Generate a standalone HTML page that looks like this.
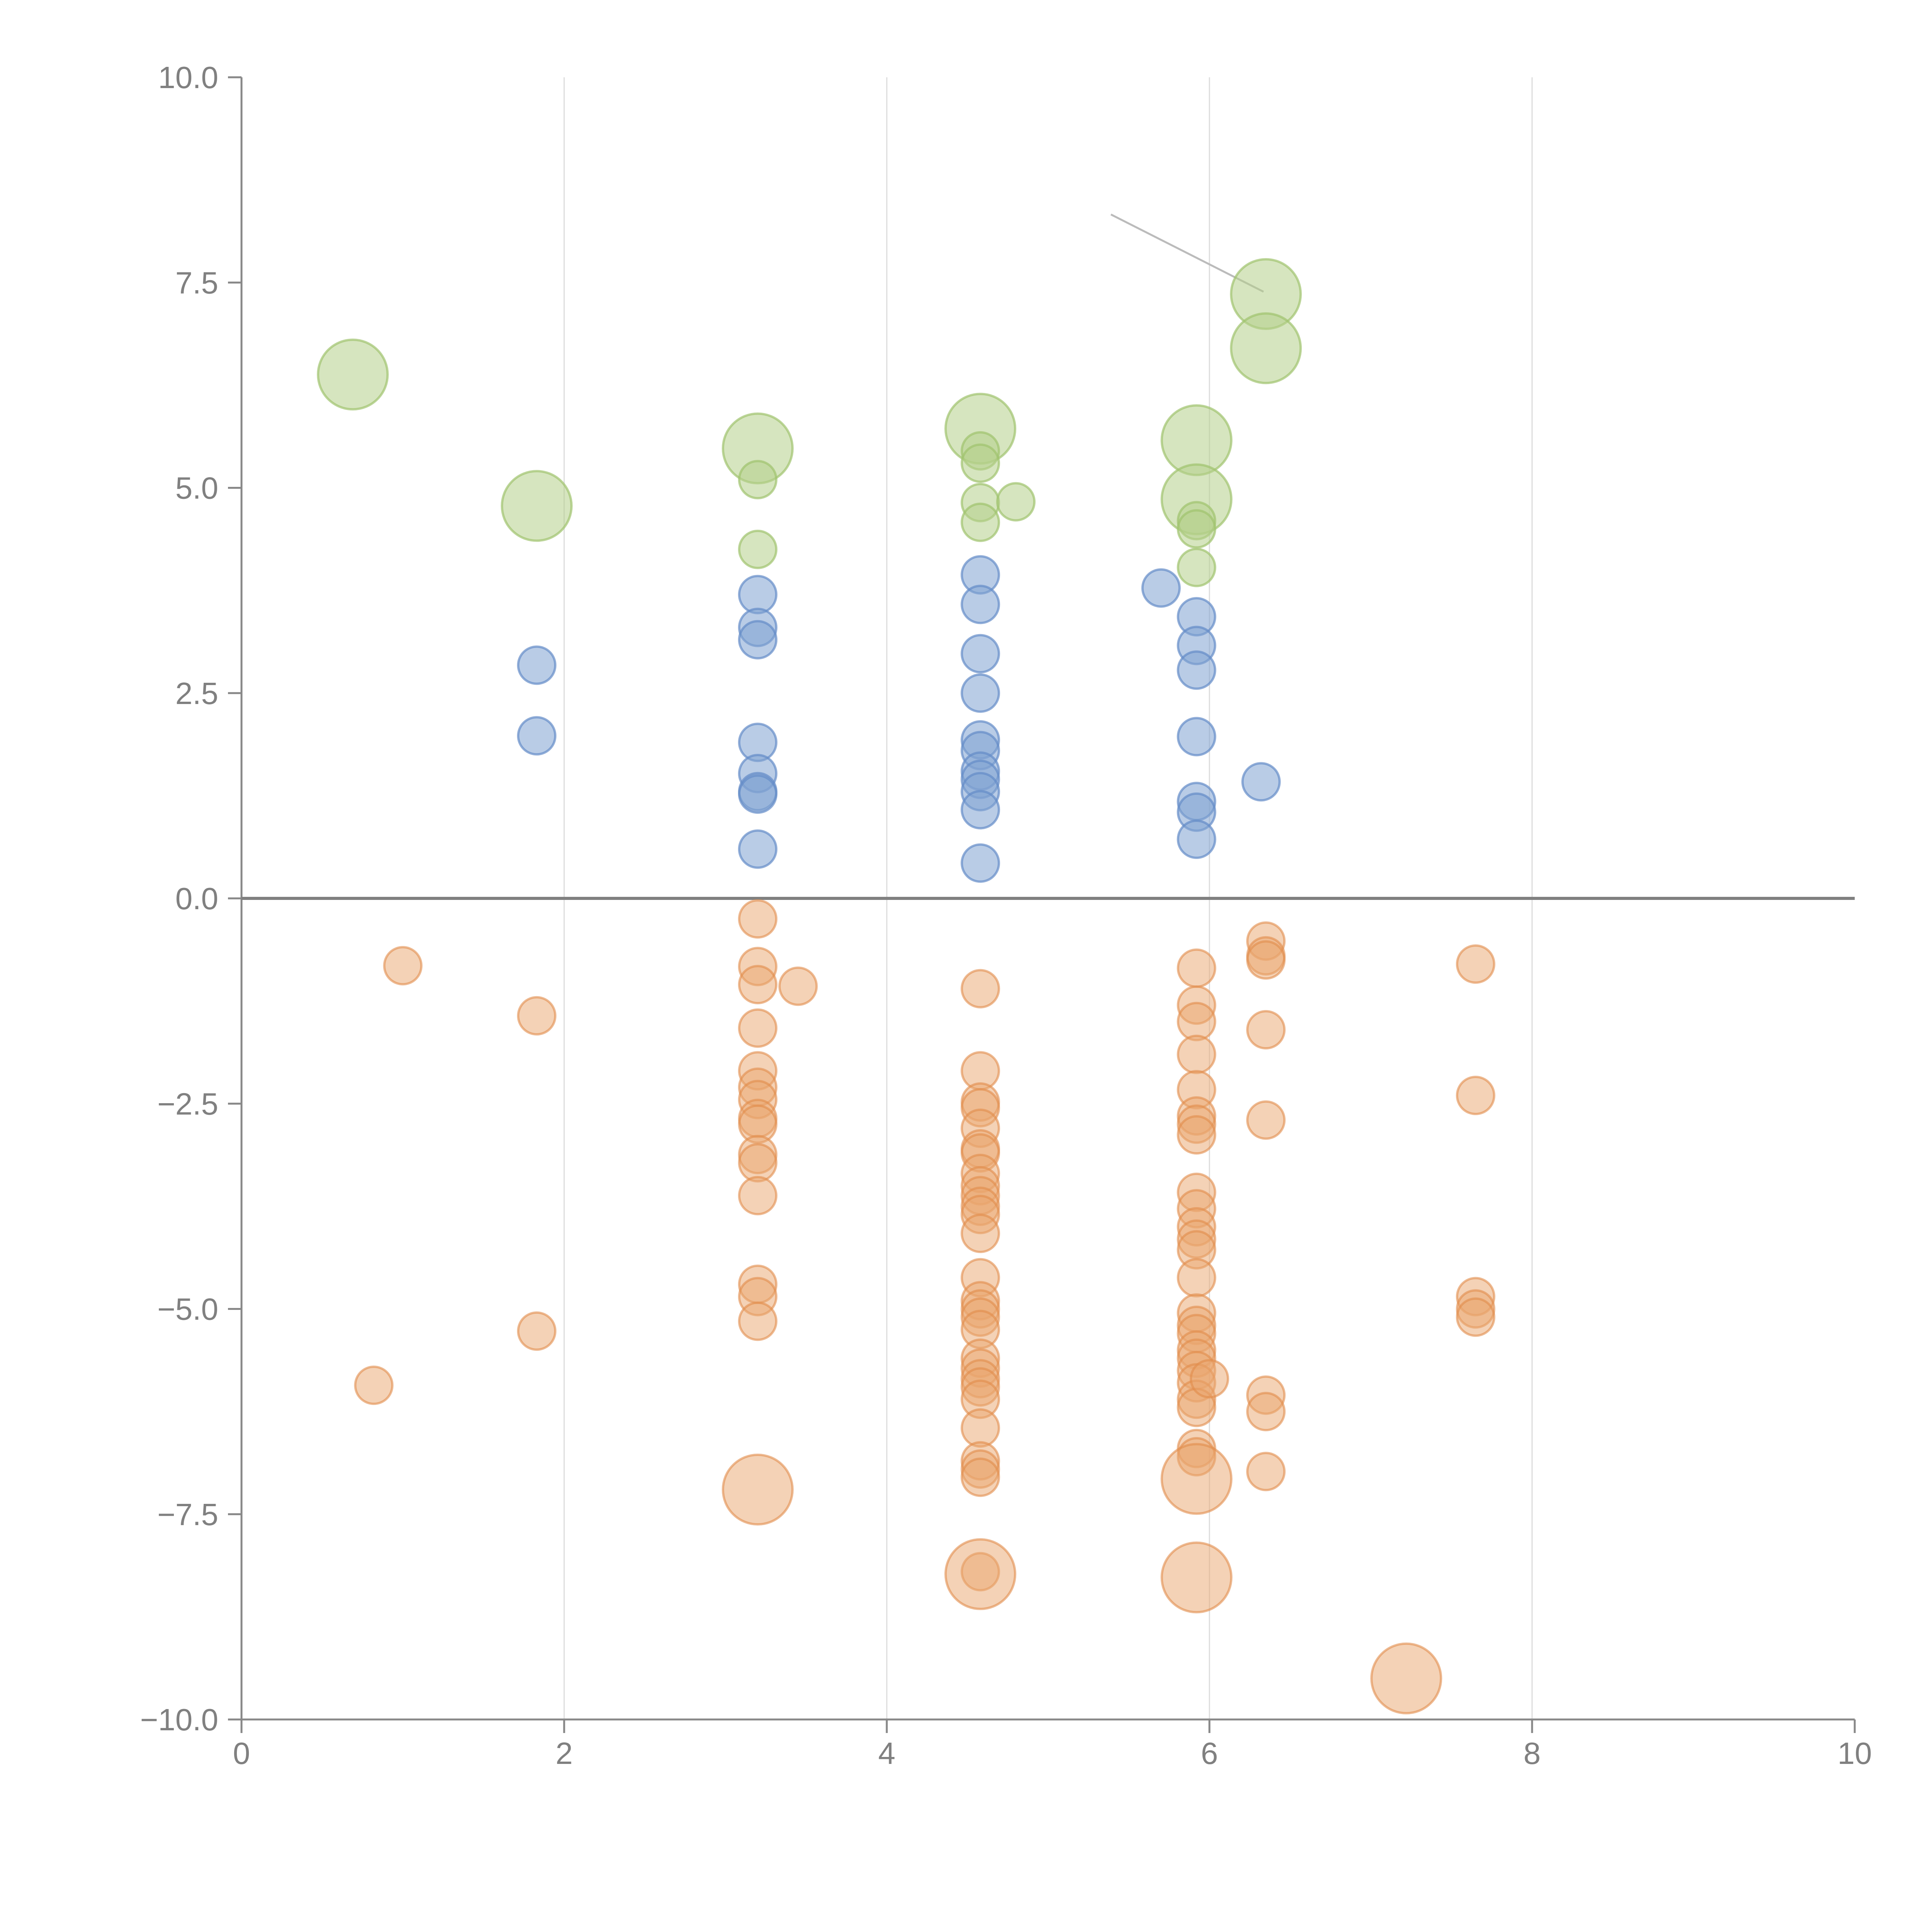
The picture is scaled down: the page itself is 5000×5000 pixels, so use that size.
<!DOCTYPE html>
<html><head><meta charset="utf-8"><style>
html,body{margin:0;padding:0;background:#fff;}
svg{display:block;font-family:"Liberation Sans",Arial,sans-serif;}
</style></head><body>
<svg id="chart" width="5000" height="5000" viewBox="0 0 5000 5000" xmlns="http://www.w3.org/2000/svg">
<g id="grid"></g>
<g id="axes"></g>
<g id="marks"></g>
</svg>
<script>
const xTicks=[0,2,4,6,8,10];
const yTicks=[10,7.5,5,2.5,0,-2.5,-5,-7.5,-10];
const yTickLabels=["10.0","7.5","5.0","2.5","0.0","\u22122.5","\u22125.0","\u22127.5","\u221210.0"];
const greenBigX=[0.69,1.83,3.2,4.58,5.92,5.92,6.35,6.35];
const greenBigY=[6.38,4.78,5.48,5.72,5.58,4.86,7.36,6.7];
const greenX=[3.2,3.2,4.58,4.58,4.58,4.58,4.8,5.92,5.92,5.92];
const greenY=[5.1,4.25,5.45,5.3,4.82,4.58,4.83,4.6,4.5,4.03];
const blueX=[1.83,1.83,3.2,3.2,3.2,3.2,3.2,3.2,3.2,3.2,4.58,4.58,4.58,4.58,4.58,4.58,4.58,4.58,4.58,4.58,4.58,5.7,5.92,5.92,5.92,5.92,5.92,5.92,5.92,6.32];
const blueY=[2.84,1.98,3.7,3.3,3.15,1.9,1.52,1.3,1.27,0.6,3.94,3.58,2.98,2.5,1.93,1.8,1.55,1.45,1.3,1.08,0.43,3.78,3.43,3.08,2.78,1.97,1.18,1.05,0.72,1.42];
const orangeX=[1.0,0.82,1.83,1.83,3.2,3.2,3.2,3.45,3.2,3.2,3.2,3.2,3.2,3.2,3.2,3.2,3.2,3.2,3.2,3.2,
4.58,4.58,4.58,4.58,4.58,4.58,4.58,4.58,4.58,4.58,4.58,4.58,4.58,4.58,4.58,4.58,4.58,4.58,4.58,4.58,4.58,4.58,4.58,4.58,4.58,4.58,4.58,4.58,
5.92,5.92,5.92,5.92,5.92,5.92,5.92,5.92,5.92,5.92,5.92,5.92,5.92,5.92,5.92,5.92,5.92,5.92,5.92,5.92,5.92,5.92,5.92,5.92,5.92,6.0,
6.35,6.35,6.35,6.35,6.35,6.35,6.35,6.35,7.65,7.65,7.65,7.65,7.65];
const orangeY=[-0.82,-5.93,-1.43,-5.27,-0.25,-0.83,-1.05,-1.07,-1.58,-2.1,-2.3,-2.45,-2.68,-2.75,-3.12,-3.22,-3.62,-4.7,-4.85,-5.15,
-1.1,-2.1,-2.48,-2.55,-2.8,-3.05,-3.1,-3.35,-3.5,-3.62,-3.75,-3.85,-4.08,-4.62,-4.9,-5.0,-5.1,-5.25,-5.6,-5.72,-5.85,-5.95,-6.1,-6.45,-6.85,-6.95,-7.05,-8.2,
-0.85,-1.3,-1.5,-1.9,-2.33,-2.65,-2.75,-2.88,-3.58,-3.78,-4.0,-4.15,-4.28,-4.62,-5.05,-5.2,-5.3,-5.5,-5.6,-5.75,-5.9,-6.1,-6.2,-6.7,-6.8,-5.85,
-0.52,-0.7,-0.75,-1.6,-2.7,-6.05,-6.25,-6.98,-0.8,-2.4,-4.85,-5.0,-5.1];
const orangeBigX=[3.2,4.58,5.92,5.92,7.22];
const orangeBigY=[-7.2,-8.23,-7.07,-8.27,-9.5];

const NS="http://www.w3.org/2000/svg";
const X0=625,X1=4800,Y0=4450,Y1=200;
function sx(v){return X0+(v-0)/(10-0)*(X1-X0);}
function sy(v){return Y0-(v+10)/20*(Y0-Y1);}
function mk(tag,attrs,parent){const e=document.createElementNS(NS,tag);for(const k in attrs)e.setAttribute(k,attrs[k]);parent.appendChild(e);return e;}
const grid=document.getElementById('grid'),axes=document.getElementById('axes'),marks=document.getElementById('marks');
xTicks.forEach(t=>{
  if(t>0&&t<10){const l=mk('line',{x1:sx(t),x2:sx(t),y1:Y1,y2:Y0,stroke:'#dcdcdc','stroke-width':3},grid);
  
  }
  const tk=mk('line',{x1:sx(t),x2:sx(t),y1:Y0,y2:Y0+35,stroke:'#888','stroke-width':5},axes);
  
  
  const tx=mk('text',{x:sx(t),y:Y0+115,'text-anchor':'middle','font-size':80,fill:'#808080'},axes);
  tx.textContent=String(t);
  
  
});
yTicks.forEach((t,i)=>{
  const tk=mk('line',{x1:X0-35,x2:X0,y1:sy(t),y2:sy(t),stroke:'#888','stroke-width':5},axes);
  
  
  const tx=mk('text',{x:X0-60,y:sy(t)+28,'text-anchor':'end','font-size':80,fill:'#808080'},axes);
  tx.textContent=yTickLabels[i];
  
  
});
let a=mk('line',{x1:X0,x2:X0,y1:Y1,y2:Y0,stroke:'#888','stroke-width':5},axes);


a=mk('line',{x1:X0,x2:X1,y1:Y0,y2:Y0,stroke:'#888','stroke-width':5},axes);


a=mk('line',{x1:X0,x2:X1,y1:sy(0),y2:sy(0),stroke:'#808080','stroke-width':8},axes);


a=mk('line',{x1:2875,y1:555,x2:3270,y2:755,stroke:'#bbb','stroke-width':5},axes);


function draw(xs,ys,r,fill,stroke,name){
  xs.forEach((x,i)=>{
    const c=mk('circle',{cx:sx(x),cy:sy(ys[i]),r:r,fill:fill,stroke:stroke,'stroke-width':6},marks);
    
    
  });
}
draw(greenBigX,greenBigY,90,'rgba(181,207,138,0.55)','rgba(160,195,110,0.7)','green-bubble-large');
draw(greenX,greenY,48,'rgba(181,207,138,0.55)','rgba(160,195,110,0.7)','green-bubble');
draw(blueX,blueY,48,'rgba(128,162,210,0.55)','rgba(100,140,200,0.7)','blue-bubble');
draw(orangeX,orangeY,48,'rgba(234,166,110,0.5)','rgba(225,140,75,0.6)','orange-bubble');
draw(orangeBigX,orangeBigY,90,'rgba(234,166,110,0.5)','rgba(225,140,75,0.6)','orange-bubble-large');
</script>
</body></html>
